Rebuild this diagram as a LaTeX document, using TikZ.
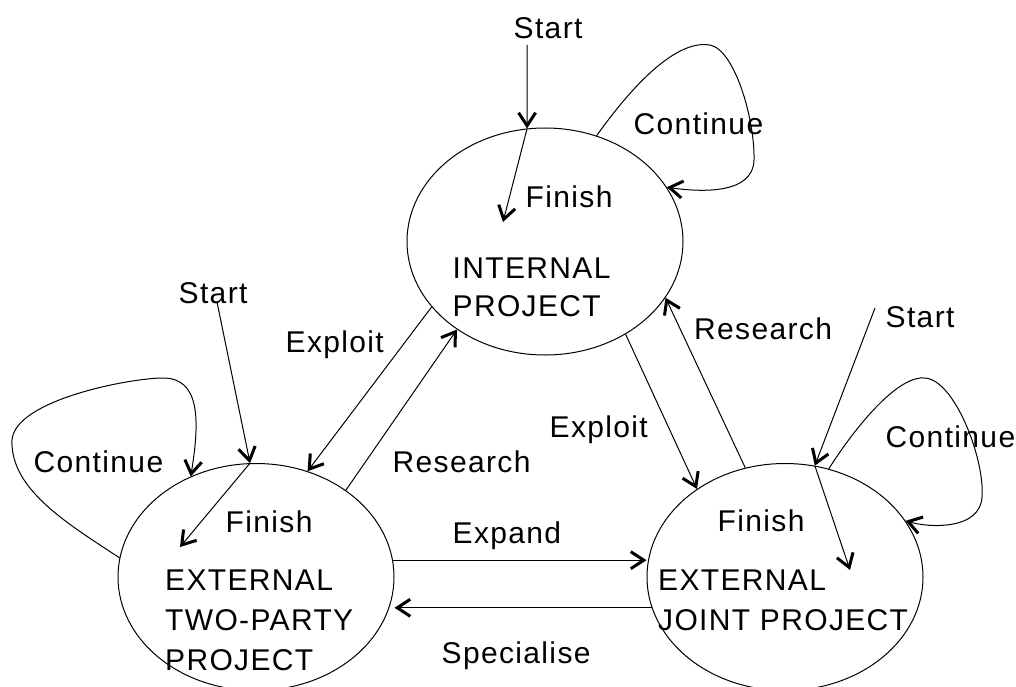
\documentclass[tikz,border=0pt]{standalone}
\usepackage{fontspec}
\setmainfont{Liberation Sans}[LetterSpace=4.5]
\usetikzlibrary{shapes.geometric,arrows.meta}

\begin{document}
\begin{tikzpicture}[x=1pt,y=-1pt,
  state/.style={draw,ellipse,minimum width=276pt,minimum height=227pt,inner sep=0pt,line width=1pt},
  lbl/.style={anchor=base west,inner sep=0pt,font=\fontsize{30}{36}\selectfont},
  arr/.style={line width=1pt,-{Straight Barb[length=13pt,width=17pt,line width=3pt]}}]
\useasboundingbox (0,0) rectangle (1016,687);
\fill[white] (0,0) rectangle (1016,687);

% the three project states
\node[state] (int)   at (545,241.5) {};
\node[state] (two)   at (256,577) {};
\node[state] (joint) at (785,577) {};

% state names
\node[lbl] (intA) at (452.5,278.5) {INTERNAL};
\node[lbl] (intB) at (452.5,316.5) {PROJECT};
\node[lbl] (twoA) at (165,590) {EXTERNAL};
\node[lbl] (twoB) at (165,630) {TWO-PARTY};
\node[lbl] (twoC) at (165,670) {PROJECT};
\node[lbl] (jntA) at (658,590) {EXTERNAL};
\node[lbl] (jntB) at (658,630) {JOINT PROJECT};

% free ends of the start and finish arrows
\coordinate (intStart) at (527,45);
\coordinate (intEnd)   at (503,222);
\coordinate (twoStart) at (217,302);
\coordinate (twoEnd)   at (180,547);
\coordinate (jntStart) at (875,308);
\coordinate (jntEnd)   at (850,570);

% transition labels
\node[lbl] (sI)  at (513.5,39)  {Start};
\node[lbl] (cI)  at (633.5,135) {Continue};
\node[lbl] (fI)  at (525.5,207) {Finish};
\node[lbl] (sT)  at (178.5,303) {Start};
\node[lbl] (cT)  at (33.5,472)  {Continue};
\node[lbl] (fT)  at (225.5,532) {Finish};
\node[lbl] (sJ)  at (885.5,327) {Start};
\node[lbl] (cJ)  at (885.5,447) {Continue};
\node[lbl] (fJ)  at (717.5,531) {Finish};
\node[lbl] (eL)  at (285.5,352) {Exploit};
\node[lbl] (rL)  at (392.5,472) {Research};
\node[lbl] (eR)  at (549.5,437) {Exploit};
\node[lbl] (rR)  at (694,339)   {Research};
\node[lbl] (exp) at (452.5,543) {Expand};
\node[lbl] (spe) at (441.5,663) {Specialise};

% start and finish
\draw[arr] (intStart) -- (int.99);
\draw[arr] (int.99) -- (intEnd);
\draw[arr] (twoStart) -- (two.93);
\draw[arr] (two.93) -- (twoEnd);
\draw[arr] (jntStart) -- (joint.75.4);
\draw[arr] (joint.75.4) -- (jntEnd);

% continue loops
\draw[arr] (int.64) .. controls (640,75) and (680,40) .. (710,45)
  .. controls (735,50) and (755,120) .. (754,160)
  .. controls (753,195) and (700,192) .. (int.24);
\draw[arr] (two.172) .. controls (70,525) and (10,490) .. (12,440)
  .. controls (15,400) and (130,378) .. (163,378)
  .. controls (200,378) and (200,420) .. (two.123);
\draw[arr] (joint.68.5) .. controls (860,420) and (900,375) .. (925,378)
  .. controls (955,380) and (985,460) .. (982,497)
  .. controls (980,530) and (930,528) .. (joint.25.7);

% transitions between states
\draw[arr] (int.210.5) -- (two.64.7);
\draw[arr] (two.44.4) -- (int.225);
\draw[arr] (int.-49) -- (joint.135.3);
\draw[arr] (joint.110) -- (int.-25.8);
\draw[arr] (two.7) -- (two.7 -| joint.west);
\draw[arr] (joint.193) -- (joint.193 -| two.east);
\end{tikzpicture}
\end{document}
